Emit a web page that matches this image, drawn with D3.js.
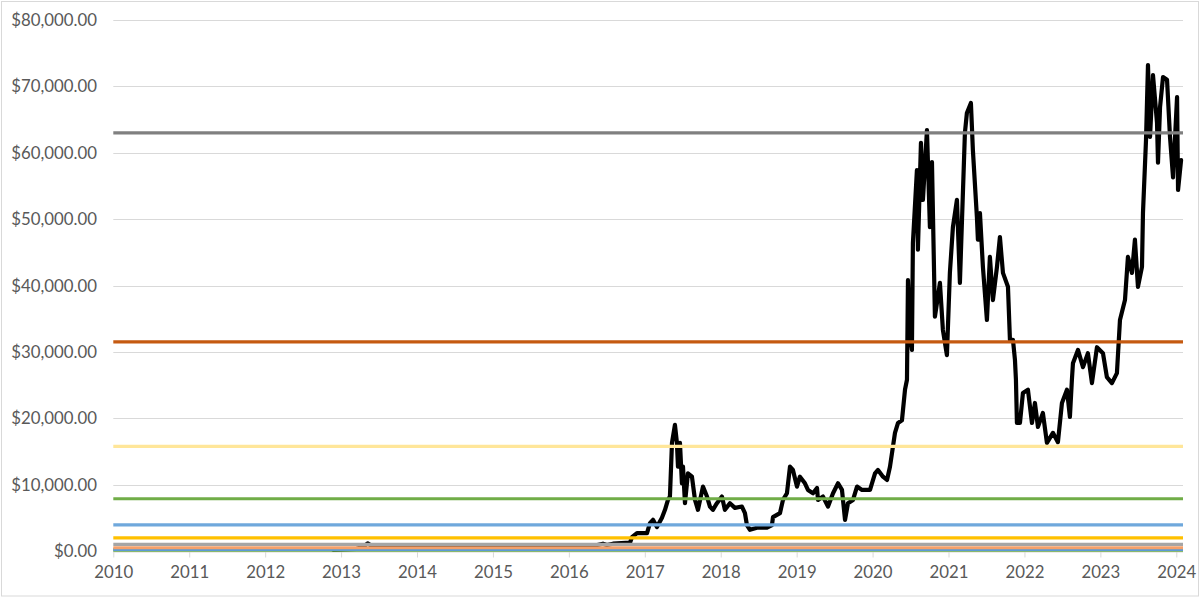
<!DOCTYPE html>
<html>
<head>
<meta charset="utf-8">
<script src="https://cdn.jsdelivr.net/npm/d3@7"></script>
<style>
  html, body { margin: 0; padding: 0; background: #fff; }
  svg { display: block; }
  text { font-family: Lato, "Open Sans", sans-serif; }
</style>
</head>
<body>
<svg id="chart" width="1200" height="598"></svg>
<script>
// Decimal year positions of the price series (as placed on the chart's axis)
const priceYears = [
  2012.9, 2013.2, 2013.3, 2013.35, 2013.4, 2013.5, 2013.7,
  2014.0, 2014.5, 2015.0, 2015.5, 2015.9, 2016.3, 2016.449, 2016.5, 2016.581, 2016.805,
  2016.831, 2016.897, 2017.029, 2017.068, 2017.108, 2017.160, 2017.226, 2017.266, 2017.305,
  2017.331, 2017.358, 2017.397, 2017.423, 2017.437, 2017.463, 2017.489, 2017.503, 2017.529,
  2017.568, 2017.621, 2017.661, 2017.700, 2017.766, 2017.819, 2017.858, 2017.897, 2017.950,
  2018.016, 2018.055, 2018.121, 2018.187, 2018.279, 2018.319, 2018.345, 2018.385, 2018.477,
  2018.609, 2018.675, 2018.688, 2018.780, 2018.820, 2018.872, 2018.912, 2018.951, 2019.004,
  2019.043, 2019.109, 2019.149, 2019.215, 2019.268, 2019.281, 2019.347, 2019.413, 2019.479,
  2019.545, 2019.597, 2019.637, 2019.676, 2019.742, 2019.795, 2019.861, 2019.966, 2020.032,
  2020.071, 2020.137, 2020.190, 2020.229, 2020.295, 2020.335, 2020.387, 2020.427, 2020.453,
  2020.466, 2020.493, 2020.518, 2020.531, 2020.584, 2020.597, 2020.637, 2020.663, 2020.716,
  2020.755, 2020.782, 2020.821, 2020.887, 2020.926, 2020.979, 2021.018, 2021.058, 2021.111,
  2021.150, 2021.216, 2021.242, 2021.295, 2021.321, 2021.374, 2021.387, 2021.414, 2021.453,
  2021.506, 2021.545, 2021.585, 2021.638, 2021.677, 2021.717, 2021.783, 2021.809, 2021.849,
  2021.875, 2021.888, 2021.901, 2021.941, 2021.980, 2022.046, 2022.099, 2022.138, 2022.178,
  2022.243, 2022.296, 2022.375, 2022.441, 2022.494, 2022.560, 2022.599, 2022.625, 2022.639,
  2022.705, 2022.771, 2022.836, 2022.889, 2022.955, 2023.034, 2023.086, 2023.152, 2023.218,
  2023.258, 2023.324, 2023.363, 2023.416, 2023.455, 2023.495, 2023.548, 2023.561, 2023.601,
  2023.627, 2023.654, 2023.693, 2023.746, 2023.759, 2023.786, 2023.825, 2023.878, 2023.917,
  2023.957, 2024.010, 2024.023, 2024.063
];
// Price in USD at each position above
const priceValues = [
  150, 300, 700, 1150, 800, 700, 700,
  750, 650, 650, 680, 700, 720, 1100, 900, 1100, 1250,
  2100, 2700, 2700, 4200, 4700, 3600, 5000, 6200, 7700,
  8200, 16300, 19000, 16300, 12700, 16300, 10200, 12700, 7200,
  11700, 11200, 7700, 6200, 9700, 8200, 6700, 6200, 7200,
  8200, 6200, 7200, 6500, 6700, 5700, 3900, 3200, 3500,
  3500, 3900, 5100, 5700, 7700, 8700, 12700, 12200, 9700,
  11200, 10200, 9200, 8700, 9500, 7700, 8200, 6700, 8700,
  10200, 9200, 4700, 7200, 7700, 9700, 9200, 9200, 11700,
  12200, 11200, 10700, 12700, 17800, 19300, 19700, 24300, 25800,
  40800, 33000, 30300, 46400, 57400, 45400, 61500, 52900, 63400,
  48800, 58600, 35300, 40400, 33300, 29500, 41900, 48800, 52900,
  40400, 63000, 66000, 67500, 60400, 50300, 46900, 50900, 42800,
  34800, 44300, 37800, 42800, 47300, 41900, 39800, 31800, 31800,
  28800, 25800, 19300, 19300, 23800, 24300, 19300, 22300, 18700,
  20800, 16300, 17800, 16400, 22300, 24300, 20200, 25800, 28300,
  30300, 27700, 29800, 25300, 30700, 29800, 26200, 25300, 26800,
  34800, 37800, 44300, 41900, 46900, 39800, 42800, 50900, 61900,
  73200, 62400, 71700, 64500, 58500, 66900, 71400, 71000, 62400,
  56300, 68400, 54400, 58900
];
// Horizontal reference levels (each half of the one above) and their colours
const levelValues = [63000, 31500, 15750, 7875, 3937.5, 1968.75, 984.375, 492.1875, 246.09375, 123.046875];
const levelColors = ["#808080", "#C55A11", "#FFE699", "#70AD47", "#6FA8DC", "#FFC000", "#A5A5A5", "#F4A06A", "#5B9BD5", "#70AD47"];
// Axis ticks
const yTicks = [0, 10000, 20000, 30000, 40000, 50000, 60000, 70000, 80000];
const xTicks = [2010, 2011, 2012, 2013, 2014, 2015, 2016, 2017, 2018, 2019, 2020, 2021, 2022, 2023, 2024];

const svg = d3.select("#chart");
const W = 1200, H = 598;

// outer border
svg.append("rect").attr("x", 1.5).attr("y", 1.5).attr("width", W - 3).attr("height", H - 3.5)
  .attr("fill", "#fff").attr("stroke", "#d9d9d9").attr("stroke-width", 1);

const plotLeft = 113.3, plotRight = 1183;
const x = d3.scaleLinear().domain([2010, 2024]).range([113.3, 1176.3]);
const y = d3.scaleLinear().domain([0, 80000]).range([551, 20]);

// gridlines
svg.append("g").selectAll("line").data(yTicks).join("line")
  .attr("x1", plotLeft).attr("x2", plotRight)
  .attr("y1", d => Math.round(y(d)) + 0.5).attr("y2", d => Math.round(y(d)) + 0.5)
  .attr("stroke", "#d9d9d9").attr("stroke-width", 1);

// y labels
const yFmt = d3.format("$,.2f");
svg.append("g").selectAll("text").data(yTicks).join("text")
  .attr("x", 97).attr("y", d => y(d)).attr("dy", "0.36em")
  .attr("text-anchor", "end").attr("font-size", 16.8).attr("fill", "#595959")
  .text(d => yFmt(d));

// x axis ticks and labels
const xAxis = d3.axisBottom(x).tickValues(xTicks).tickFormat(d3.format("d")).tickSize(6).tickPadding(9);
const gx = svg.append("g").attr("transform", `translate(0,${551.5})`).call(xAxis);
gx.select(".domain").attr("d", `M${plotLeft},0.5H${plotRight}`).attr("stroke", "#d9d9d9");
gx.selectAll(".tick line").attr("stroke", "#d9d9d9");
gx.selectAll(".tick text").attr("font-size", 16.8).attr("fill", "#595959").attr("font-family", "Lato, 'Open Sans', sans-serif");

// price line
const pts = priceYears.map((yr, i) => [yr, priceValues[i]]);
const line = d3.line().x(d => x(d[0])).y(d => y(d[1]));
svg.append("path").datum(pts).attr("d", line)
  .attr("fill", "none").attr("stroke", "#000").attr("stroke-width", 4.2)
  .attr("stroke-linejoin", "round").attr("stroke-linecap", "round");

// level lines (drawn on top)
const levels = levelValues.map((v, i) => ({ v, c: levelColors[i] }));
svg.append("g").selectAll("line").data(levels.slice().reverse()).join("line")
  .attr("x1", plotLeft).attr("x2", plotRight)
  .attr("y1", d => y(d.v)).attr("y2", d => y(d.v))
  .attr("stroke", d => d.c).attr("stroke-width", 3.2);
</script>
</body>
</html>
